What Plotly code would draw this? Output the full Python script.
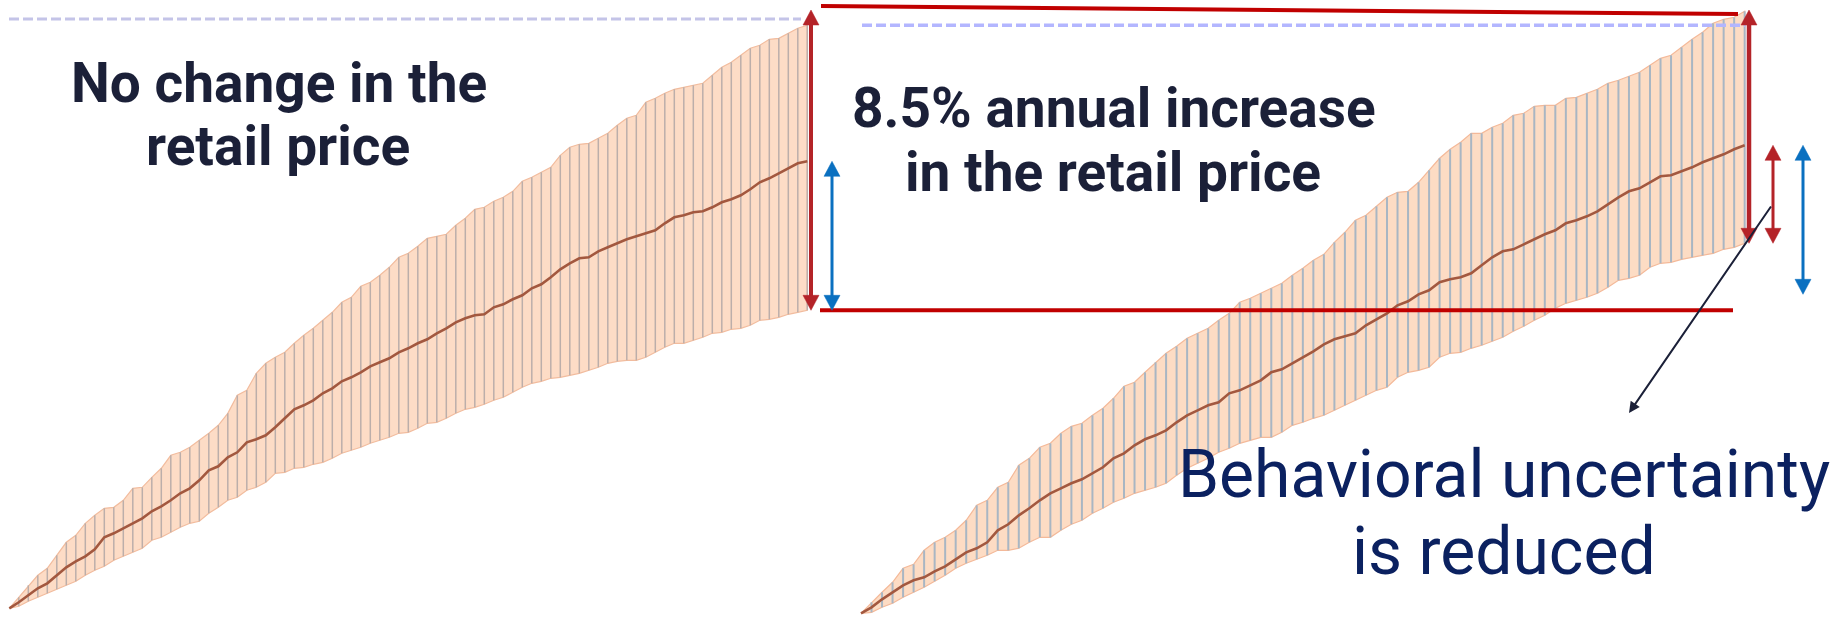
import plotly.graph_objects as go

# Month index shared by both scenarios
months = list(range(85))

# Scenario A: no change in the retail price (cumulative level, 1 unit = 1 px)
left_upper = [5, 16, 28, 38, 45, 58, 71, 78, 90, 98,
              105, 106, 113, 125, 126, 136, 145, 158, 161, 166,
              173, 180, 188, 200, 218, 223, 240, 250, 256, 261,
              270, 278, 285, 293, 301, 311, 316, 327, 331, 338,
              346, 356, 360, 367, 375, 377, 379, 388, 395, 404,
              406, 412, 416, 422, 432, 436, 441, 446, 458, 466,
              469, 470, 475, 480, 488, 495, 498, 511, 515, 520,
              524, 526, 528, 530, 538, 546, 551, 558, 565, 568,
              574, 575, 580, 585, 588]
left_median = [5, 11, 18, 25, 30, 38, 46, 52, 57, 64,
               76, 80, 85, 90, 95, 102, 107, 113, 120, 125,
               133, 143, 147, 156, 161, 171, 174, 178, 186, 195,
               204, 208, 213, 220, 225, 232, 236, 241, 247, 251,
               255, 261, 265, 270, 274, 280, 285, 291, 295, 298,
               299, 306, 309, 314, 318, 325, 329, 336, 344, 350,
               355, 356, 362, 366, 370, 374, 377, 380, 383, 390,
               396, 398, 401, 402, 406, 411, 414, 418, 424, 431,
               435, 440, 445, 450, 452]
left_lower = [5, 7, 12, 16, 20, 24, 28, 32, 38, 43,
              47, 53, 57, 61, 65, 73, 76, 81, 86, 90,
              92, 100, 106, 113, 116, 123, 126, 131, 140, 141,
              145, 146, 149, 151, 155, 160, 163, 166, 170, 173,
              176, 180, 181, 185, 190, 191, 195, 200, 204, 206,
              209, 213, 216, 221, 226, 230, 232, 235, 236, 238,
              240, 243, 246, 250, 252, 253, 253, 256, 261, 266,
              270, 270, 273, 276, 280, 281, 284, 285, 288, 293,
              294, 296, 299, 301, 303]

# Scenario B: 8.5% annual increase in the retail price
right_upper = [0, 11, 21, 31, 45, 49, 63, 71, 76, 83,
               93, 108, 113, 126, 131, 148, 155, 166, 170, 180,
               187, 190, 198, 205, 215, 227, 231, 241, 251, 260,
               267, 275, 280, 285, 293, 300, 311, 315, 320, 325,
               330, 338, 345, 353, 359, 371, 381, 393, 398, 407,
               416, 421, 422, 431, 443, 455, 464, 471, 480, 480,
               486, 490, 498, 500, 507, 508, 508, 515, 516, 520,
               524, 530, 533, 537, 541, 548, 555, 558, 566, 574,
               581, 590, 594, 596, 602]
right_median = [0, 6, 14, 21, 28, 33, 36, 42, 47, 54,
                61, 65, 71, 83, 89, 98, 105, 113, 120, 125,
                130, 134, 140, 146, 155, 160, 168, 174, 178, 183,
                191, 198, 203, 208, 211, 220, 223, 228, 233, 241,
                244, 250, 256, 262, 269, 274, 277, 280, 288, 294,
                300, 308, 312, 319, 323, 331, 334, 336, 340, 348,
                356, 362, 364, 369, 374, 379, 383, 390, 393, 397,
                402, 409, 416, 422, 425, 431, 437, 438, 442, 446,
                451, 455, 459, 464, 468]
right_lower = [0, 1, 6, 10, 16, 21, 26, 32, 38, 45,
               50, 54, 58, 63, 63, 65, 71, 76, 76, 83,
               89, 93, 100, 105, 111, 115, 120, 123, 126, 130,
               138, 145, 150, 155, 161, 165, 170, 173, 176, 176,
               181, 188, 191, 195, 198, 203, 208, 213, 218, 223,
               226, 236, 241, 243, 246, 256, 260, 261, 265, 268,
               272, 276, 282, 287, 293, 298, 305, 310, 313, 316,
               320, 326, 333, 335, 338, 346, 350, 351, 354, 356,
               358, 360, 364, 366, 370]

W, H = 1832, 620
BASE = 613.3          # pixel row where level 0 sits
TOP_LEVEL = BASE - 10  # level of the upper reference line


def lv(py):
    """Pixel row -> level units."""
    return BASE - py


def xr(x0, step):
    """x-axis range so that month 0 lands on pixel x0 with the given spacing."""
    return [-x0 / step, (W - x0) / step]


fig = go.Figure()


def add_panel(xaxis, upper, median, lower, fill, edge, rib, rib_w, med):
    fig.add_trace(go.Scatter(
        x=months + months[::-1], y=upper + lower[::-1], xaxis=xaxis, yaxis="y",
        mode="lines", fill="toself", fillcolor=fill,
        line=dict(color=edge, width=1.2), hoverinfo="skip"))
    xs, ys = [], []
    for m, lo, hi in zip(months, lower, upper):
        xs += [m, m, None]
        ys += [lo, hi, None]
    fig.add_trace(go.Scatter(
        x=xs, y=ys, xaxis=xaxis, yaxis="y", mode="lines",
        line=dict(color=rib, width=rib_w), hoverinfo="skip"))
    fig.add_trace(go.Scatter(
        x=months, y=median, xaxis=xaxis, yaxis="y", mode="lines",
        line=dict(color=med, width=2.6), hoverinfo="skip"))


add_panel("x", left_upper, left_median, left_lower,
          "#fddcc6", "#f2bc9e", "#bcaeaa", 1.5, "#a3583f")
add_panel("x2", right_upper, right_median, right_lower,
          "#fddcc4", "#f4b999", "#a9b6c3", 2.0, "#a3583f")


def hline(x0, x1, y0, y1, color, width, dash="solid"):
    fig.add_shape(type="line", xref="paper", yref="y",
                  x0=x0 / W, x1=x1 / W, y0=y0, y1=y1,
                  line=dict(color=color, width=width, dash=dash))


def double_arrow(x, y_top, y_bot, color, width, head_w=16, head_h=15):
    xc, half = x / W, head_w / 2 / W
    fig.add_shape(type="line", xref="paper", yref="y", x0=xc, x1=xc,
                  y0=y_top - head_h * 0.8, y1=y_bot + head_h * 0.8,
                  line=dict(color=color, width=width))
    for tip, base in ((y_top, y_top - head_h), (y_bot, y_bot + head_h)):
        fig.add_shape(type="path", xref="paper", yref="y",
                      path=f"M {xc - half},{base} L {xc + half},{base} L {xc},{tip} Z",
                      fillcolor=color, line=dict(color=color, width=0.5))


# reference levels
hline(9, 801, lv(19), lv(19), "#c4c4e8", 3, "10px,4px")
hline(862, 1745, left_upper[-1], left_upper[-1], "#b3b6ff", 3.5, "10px,4px")
hline(821, 1738, lv(6), lv(14), "#c00000", 4)
hline(820, 1733, left_lower[-1], left_lower[-1], "#c00000", 4)

# spread arrows
double_arrow(811, TOP_LEVEL, left_lower[-1], "#b42328", 4)
double_arrow(832, left_median[-1], left_lower[-1], "#0a70c0", 3)
double_arrow(1749, TOP_LEVEL, right_lower[-1], "#b42328", 4.5)
double_arrow(1773, right_median[-1], right_lower[-1], "#b42328", 3)
double_arrow(1803, right_median[-1],
             right_median[-1] - (left_median[-1] - left_lower[-1]), "#0a70c0", 3)

# pointer to the caption
fig.add_annotation(xref="paper", yref="paper", x=1629 / W, y=1 - 413 / H,
                   ax=143, ay=-208, text="", showarrow=True,
                   arrowhead=2, arrowsize=1.1, arrowwidth=2, arrowcolor="#1b2038")


def label(text, xc, baseline, size, weight, color):
    fig.add_annotation(xref="paper", yref="paper", x=xc / W,
                       y=1 - (baseline + 0.26 * size + 1) / H,
                       xanchor="center", yanchor="bottom", showarrow=False,
                       text=text, font=dict(family="Roboto", size=size,
                                            color=color, weight=weight))


DARK = "#1b2038"
NAVY = "#0b2160"
label("No change in the", 279, 102, 55, "bold", DARK)
label("retail price", 278, 165, 55, "bold", DARK)
label("8.5% annual increase", 1114, 127, 55, "bold", DARK)
label("in the retail price", 1113, 191, 55, "bold", DARK)
label("Behavioral uncertainty", 1504, 497, 66, "normal", NAVY)
label("is reduced", 1504, 574, 66, "normal", NAVY)

fig.update_layout(
    width=W, height=H, margin=dict(l=0, r=0, t=0, b=0),
    paper_bgcolor="white", plot_bgcolor="white", showlegend=False,
    xaxis=dict(domain=[0, 1], range=xr(9.3, 9.5), visible=False, fixedrange=True),
    xaxis2=dict(domain=[0, 1], range=xr(861, 10.52), overlaying="x",
                visible=False, fixedrange=True),
    yaxis=dict(domain=[0, 1], range=[BASE - H, BASE], visible=False, fixedrange=True),
)

fig.write_html("out.html", config={"displayModeBar": False},
               post_script="document.body.style.margin='0';")
